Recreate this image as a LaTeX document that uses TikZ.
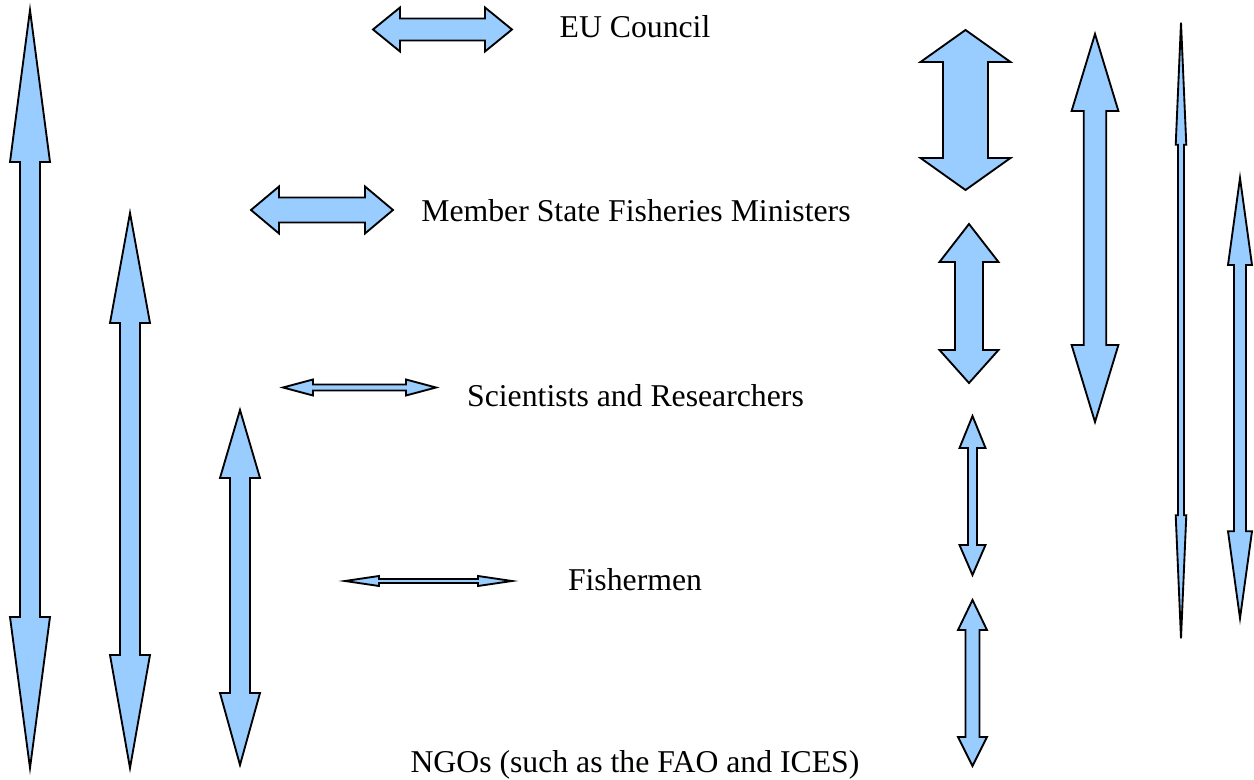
\documentclass[tikz,border=0pt]{standalone}
\usepackage{fontspec}
\setmainfont{Liberation Serif}
\definecolor{arrowblue}{HTML}{99CCFF}
\tikzset{blockarrow/.style={draw=black,fill=arrowblue,line width=1.4pt,line join=miter},
  lbl/.style={font=\fontsize{23.8}{28}\selectfont,inner sep=0pt,anchor=center}}
% vertical double arrow: x, top, bottom, head length top, head length bottom, head half width, shaft half width
\newcommand\vdarrow[7]{%
  \path[blockarrow] (#1,#2) -- ({#1+#6},{#2+#4}) -- ({#1+#7},{#2+#4}) -- ({#1+#7},{#3-#5}) -- ({#1+#6},{#3-#5}) -- (#1,#3)
   -- ({#1-#6},{#3-#5}) -- ({#1-#7},{#3-#5}) -- ({#1-#7},{#2+#4}) -- ({#1-#6},{#2+#4}) -- cycle;}
% horizontal double arrow: y, left, right, head length, head half height, shaft half height
\newcommand\hdarrow[6]{%
  \path[blockarrow] (#2,#1) -- ({#2+#4},{#1-#5}) -- ({#2+#4},{#1-#6}) -- ({#3-#4},{#1-#6}) -- ({#3-#4},{#1-#5}) -- (#3,#1)
   -- ({#3-#4},{#1+#5}) -- ({#3-#4},{#1+#6}) -- ({#2+#4},{#1+#6}) -- ({#2+#4},{#1+#5}) -- cycle;}
\begin{document}
\begin{tikzpicture}[x=0.75pt,y=-0.75pt]
\useasboundingbox (0,0) rectangle (1254,780);
% left vertical arrows
\vdarrow{30}{10}{768}{152}{151}{20}{10}
\vdarrow{130}{213}{768}{110}{113}{20}{10}
\vdarrow{240}{410}{765}{68}{72}{20}{10}
% horizontal arrows
\hdarrow{29.5}{373}{512}{27}{22}{11}
\hdarrow{210}{251}{393}{28}{23.5}{12.5}
\hdarrow{387.5}{283}{436}{30}{8}{3}
\hdarrow{581}{345}{512}{34}{5}{2}
% right vertical arrows
\vdarrow{965.5}{30}{190}{32}{32}{45}{22.5}
\vdarrow{969}{224}{383}{38}{33}{29.5}{14}
\vdarrow{972.5}{416}{575}{32}{30}{13}{4.5}
\vdarrow{972.5}{600}{766}{30}{29}{14.5}{7}
\vdarrow{1095}{34}{422}{77}{77}{23.4}{11.3}
\vdarrow{1181}{22.7}{638.3}{122}{123}{5.3}{3}
\vdarrow{1240}{178}{618.3}{87}{87}{12}{6}
% labels
\node[lbl] (eu) at (635,27) {EU Council};
\node[lbl] (ms) at (636,211) {Member State Fisheries Ministers};
\node[lbl] (sr) at (635.5,396) {Scientists and Researchers};
\node[lbl] (fm) at (635,580) {Fishermen};
\node[lbl] (ngo) at (635,765) {NGOs (such as the FAO and ICES)};
\end{tikzpicture}
\end{document}
